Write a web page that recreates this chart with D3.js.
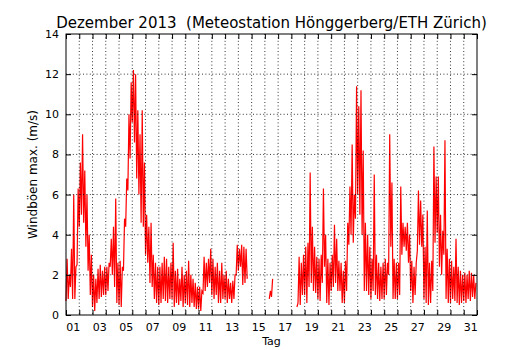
<!DOCTYPE html>
<html>
<head>
<meta charset="utf-8">
<script src="https://cdnjs.cloudflare.com/ajax/libs/d3/7.8.5/d3.min.js"></script>
<style>
  body { margin: 0; background: #fff; }
  text { font-family: "DejaVu Sans", sans-serif; fill: #000; }
</style>
</head>
<body>
<div id="chart"></div>
<script>
const chartTitle = "Dezember 2013  (Meteostation Hönggerberg/ETH Zürich)";
const xTitle = "Tag";
const yTitle = "Windböen max. (m/s)";

// labels sit in the middle of every second day
const dayLabels = ["01","03","05","07","09","11","13","15","17","19","21","23","25","27","29","31"];
const yTicks = [0, 2, 4, 6, 8, 10, 12, 14];
const nDays = 31;
const stepsPerDay = 12; // one value every 2 hours

// max. gusts (m/s), one line per day; null = no data
const gusts = [
  0.7, 2.8, 0.8, 2.0, 1.4, 3.3, 0.8, 6.0, 0.8, 2.4, 2.5, 6.3,      // 01
  4.4, 7.6, 5.0, 9.0, 4.6, 7.2, 3.4, 6.0, 2.2, 4.0, 1.0, 3.0,      // 02
  0.4, 2.0, 0.2, 1.8, 0.6, 2.3, 0.8, 2.5, 0.9, 2.2, 1.0, 2.4,      // 03
  1.0, 2.4, 1.2, 2.6, 2.4, 3.8, 2.0, 4.4, 1.4, 5.8, 0.6, 2.6,      // 04
  0.5, 2.7, 0.4, 2.4, 2.2, 4.8, 4.4, 6.8, 6.2, 10.0, 7.8, 11.6,    // 05
  9.6, 12.2, 8.6, 12.0, 6.8, 10.2, 6.0, 9.0, 4.6, 10.2, 4.4, 7.6,  // 06
  3.0, 5.0, 2.6, 4.4, 1.6, 4.6, 1.4, 3.0, 0.8, 2.6, 0.6, 2.4,      // 07
  0.5, 2.4, 0.6, 2.6, 0.8, 2.9, 0.7, 2.8, 0.6, 2.4, 0.8, 2.6,      // 08
  0.8, 3.6, 0.4, 2.2, 0.6, 2.3, 0.5, 1.8, 0.7, 2.4, 0.4, 2.0,      // 09
  0.6, 2.2, 0.5, 2.7, 0.4, 2.0, 0.6, 1.8, 0.4, 1.6, 0.3, 1.4,      // 10
  0.3, 1.4, 0.2, 1.2, 1.1, 2.9, 1.2, 2.6, 1.4, 2.8, 1.6, 3.3,      // 11
  1.0, 2.8, 0.8, 2.4, 1.0, 2.6, 0.6, 2.2, 0.6, 2.6, 0.8, 2.0,      // 12
  0.8, 2.2, 0.6, 1.8, 0.8, 1.6, 0.6, 1.7, 0.8, 2.0, 2.0, 3.5,      // 13
  2.2, 3.3, 2.4, 3.5, 1.5, 3.4, 1.6, 3.3, 1.8, null, null, null,   // 14
  null, null, null, null, null, null, null, null, null, null, null, null, // 15
  null, null, null, null, 0.8, 1.2, 0.9, 1.8, null, null, null, null,     // 16
  null, null, null, null, null, null, null, null, null, null, null, null, // 17
  null, null, null, null, null, 0.4, 0.6, 2.9, 0.5, 2.6, 1.0, 3.0, // 18
  1.0, 3.4, 0.6, 3.6, 1.4, 7.1, 1.6, 4.4, 1.2, 3.4, 1.1, 2.9,      // 19
  0.8, 2.8, 0.7, 3.0, 1.6, 6.3, 2.4, 4.0, 0.6, 2.8, 0.5, 2.6,      // 20
  1.2, 3.0, 1.4, 4.5, 1.6, 3.8, 1.2, 2.7, 1.2, 2.6, 0.6, 2.2,      // 21
  0.6, 2.7, 1.2, 4.6, 3.5, 6.4, 4.0, 8.5, 3.6, 6.0, 4.8, 11.4,     // 22
  6.0, 10.4, 5.0, 11.2, 4.0, 8.2, 1.2, 4.6, 1.2, 4.0, 1.0, 3.4,    // 23
  0.8, 2.8, 1.2, 7.0, 1.0, 3.0, 0.8, 2.6, 0.7, 2.4, 0.8, 2.6,      // 24
  0.8, 2.8, 1.0, 2.6, 2.0, 9.0, 3.4, 6.6, 0.8, 2.8, 0.8, 2.6,      // 25
  0.8, 2.6, 1.0, 6.4, 3.0, 4.6, 3.4, 4.4, 3.2, 4.6, 2.6, 4.0,      // 26
  1.2, 2.7, 0.6, 2.4, 1.0, 2.6, 3.2, 6.2, 3.5, 5.7, 3.4, 5.0,      // 27
  0.8, 3.4, 0.6, 5.2, 0.5, 2.6, 0.6, 2.7, 1.2, 8.4, 3.6, 6.9,      // 28
  4.1, 6.9, 2.4, 5.0, 2.0, 4.2, 3.0, 8.7, 0.8, 3.3, 0.6, 2.8,      // 29
  0.6, 2.7, 0.8, 2.4, 0.7, 3.8, 0.6, 2.4, 0.5, 2.2, 0.6, 2.0,      // 30
  0.7, 2.1, 0.6, 2.0, 0.8, 2.2, 0.7, 2.1, 0.9, 2.0, 0.8, 1.6       // 31
];

//*********************************************
// create svg canvas
const canvWidth = 530, canvHeight = 350;
const margin = {top: 34, right: 53, bottom: 35, left: 66};
const width = canvWidth - margin.left - margin.right;
const height = canvHeight - margin.top - margin.bottom;

const svg = d3.select("#chart").append("svg")
    .attr("width", canvWidth)
    .attr("height", canvHeight);

svg.append("text")
    .attr("x", margin.left + width / 2)
    .attr("y", 28)
    .attr("text-anchor", "middle")
    .attr("xml:space", "preserve")
    .style("white-space", "pre")
    .style("font-size", "15px")
    .text(chartTitle);

const g = svg.append("g")
    .attr("transform", "translate(" + margin.left + "," + margin.top + ")");

// scales: x in days since 1 Dec 00:00
const xScale = d3.scaleLinear().domain([0, nDays]).range([0, width]);
const yScale = d3.scaleLinear().domain([0, 14]).range([height, 0]);

// data line
const line = d3.line()
    .defined(d => d !== null)
    .x((d, i) => xScale(i / stepsPerDay))
    .y(d => yScale(d));

g.append("path")
    .datum(gusts)
    .attr("fill", "none")
    .attr("stroke", "#ff0000")
    .attr("stroke-width", 1.2)
    .attr("d", line);

// dotted grid (drawn over the line, like the old matplotlib style)
g.append("g").selectAll("line")
    .data(d3.range(1, nDays))
    .join("line")
    .attr("x1", d => xScale(d)).attr("x2", d => xScale(d))
    .attr("y1", 0).attr("y2", height)
    .attr("stroke", "#000")
    .attr("stroke-width", 0.8)
    .attr("stroke-dasharray", "1,2.4");

g.append("g").selectAll("line")
    .data(yTicks.slice(1, -1))
    .join("line")
    .attr("x1", 0).attr("x2", width)
    .attr("y1", d => yScale(d)).attr("y2", d => yScale(d))
    .attr("stroke", "#000")
    .attr("stroke-width", 0.8)
    .attr("stroke-dasharray", "1,2.4");

// inward ticks on all four sides
const dayTicks = d3.range(0, nDays + 1);
g.append("g")
    .attr("transform", "translate(0," + height + ")")
    .call(d3.axisBottom(xScale).tickValues(dayTicks).tickSize(-5).tickFormat(""))
    .call(a => a.select(".domain").remove());
g.append("g")
    .call(d3.axisTop(xScale).tickValues(dayTicks).tickSize(-5).tickFormat(""))
    .call(a => a.select(".domain").remove());
g.append("g")
    .attr("transform", "translate(" + width + ",0)")
    .call(d3.axisRight(yScale).tickValues(yTicks).tickSize(-5).tickFormat(""))
    .call(a => a.select(".domain").remove());

// y axis with labels
g.append("g")
    .call(d3.axisLeft(yScale).tickValues(yTicks).tickSize(-5).tickPadding(7).tickFormat(d3.format("d")))
    .call(a => a.select(".domain").remove())
    .call(a => a.selectAll("text").style("font-size", "11px").style("font-family", "DejaVu Sans"));

// x labels at noon of odd days
g.append("g")
    .attr("transform", "translate(0," + height + ")")
    .call(d3.axisBottom(xScale)
      .tickValues(dayLabels.map(s => +s - 0.5))
      .tickSize(0)
      .tickPadding(8)
      .tickFormat((d, i) => dayLabels[i]))
    .call(a => a.select(".domain").remove())
    .call(a => a.selectAll("text").style("font-size", "11px").style("font-family", "DejaVu Sans"));

// frame
g.append("rect")
    .attr("width", width)
    .attr("height", height)
    .attr("fill", "none")
    .attr("stroke", "#000")
    .attr("stroke-width", 1);

// axis titles
g.append("text")
    .attr("x", width / 2)
    .attr("y", height + 30)
    .attr("text-anchor", "middle")
    .style("font-size", "11px")
    .text(xTitle);

g.append("text")
    .attr("transform", "rotate(-90)")
    .attr("x", -height / 2)
    .attr("y", -29)
    .attr("text-anchor", "middle")
    .style("font-size", "12px")
    .text(yTitle);
</script>
</body>
</html>
